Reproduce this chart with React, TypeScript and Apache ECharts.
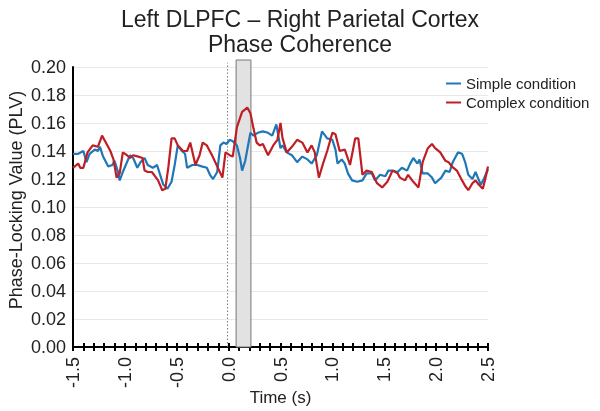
import React, { useEffect, useRef } from "react";
import * as echarts from "echarts";

const simpleTimes = [-1.5,-1.45,-1.4,-1.37,-1.34,-1.29,-1.26,-1.24,-1.21,-1.16,-1.12,-1.1,-1.07,-1.05,-1.02,-0.98,-0.95,-0.92,-0.88,-0.85,-0.81,-0.78,-0.73,-0.69,-0.66,-0.63,-0.59,-0.55,-0.52,-0.49,-0.45,-0.42,-0.4,-0.35,-0.3,-0.26,-0.21,-0.18,-0.15,-0.11,-0.08,-0.05,-0.02,0.01,0.04,0.08,0.11,0.13,0.16,0.21,0.24,0.28,0.33,0.38,0.42,0.46,0.5,0.52,0.56,0.61,0.66,0.71,0.76,0.8,0.85,0.9,0.95,1.0,1.03,1.05,1.09,1.12,1.15,1.19,1.24,1.29,1.33,1.38,1.41,1.46,1.51,1.54,1.58,1.63,1.67,1.72,1.75,1.78,1.82,1.84,1.87,1.92,1.96,1.99,2.05,2.09,2.13,2.16,2.21,2.25,2.28,2.31,2.35,2.38,2.43,2.46,2.5];
const simpleValues = [0.138,0.138,0.14,0.132,0.138,0.141,0.14,0.143,0.136,0.129,0.13,0.133,0.126,0.119,0.125,0.132,0.137,0.135,0.128,0.132,0.135,0.13,0.128,0.13,0.123,0.116,0.113,0.118,0.13,0.144,0.14,0.138,0.128,0.13,0.13,0.129,0.128,0.123,0.12,0.125,0.144,0.146,0.145,0.148,0.147,0.144,0.135,0.126,0.133,0.153,0.151,0.153,0.154,0.153,0.151,0.159,0.142,0.144,0.139,0.137,0.132,0.136,0.134,0.131,0.137,0.154,0.149,0.148,0.141,0.131,0.134,0.131,0.124,0.119,0.118,0.119,0.124,0.124,0.119,0.123,0.122,0.126,0.126,0.125,0.128,0.126,0.131,0.135,0.131,0.134,0.124,0.124,0.121,0.117,0.121,0.126,0.125,0.132,0.139,0.138,0.132,0.123,0.12,0.125,0.116,0.12,0.127];

const complexTimes = [-1.5,-1.45,-1.43,-1.4,-1.36,-1.31,-1.26,-1.22,-1.19,-1.14,-1.11,-1.08,-1.05,-1.02,-0.98,-0.95,-0.92,-0.87,-0.83,-0.81,-0.78,-0.74,-0.71,-0.68,-0.64,-0.61,-0.58,-0.55,-0.52,-0.49,-0.44,-0.4,-0.37,-0.32,-0.28,-0.25,-0.21,-0.16,-0.11,-0.06,-0.03,0.01,0.04,0.08,0.13,0.18,0.21,0.24,0.27,0.3,0.33,0.38,0.43,0.47,0.5,0.52,0.56,0.61,0.66,0.71,0.76,0.8,0.83,0.87,0.91,0.95,1.0,1.03,1.07,1.12,1.17,1.22,1.25,1.29,1.33,1.38,1.43,1.48,1.53,1.58,1.63,1.65,1.7,1.73,1.78,1.83,1.87,1.92,1.96,1.99,2.04,2.09,2.12,2.15,2.2,2.25,2.28,2.31,2.35,2.38,2.41,2.45,2.47,2.5];
const complexValues = [0.128,0.131,0.128,0.128,0.139,0.144,0.143,0.151,0.147,0.14,0.134,0.121,0.124,0.139,0.137,0.135,0.137,0.136,0.135,0.126,0.125,0.125,0.122,0.119,0.112,0.113,0.129,0.149,0.149,0.144,0.14,0.14,0.146,0.13,0.137,0.146,0.144,0.137,0.129,0.121,0.139,0.137,0.136,0.157,0.168,0.171,0.167,0.156,0.146,0.144,0.145,0.137,0.144,0.148,0.16,0.149,0.139,0.143,0.148,0.146,0.139,0.144,0.139,0.121,0.131,0.14,0.153,0.152,0.14,0.141,0.13,0.149,0.149,0.123,0.126,0.125,0.117,0.114,0.118,0.126,0.124,0.121,0.119,0.123,0.118,0.114,0.132,0.142,0.145,0.142,0.139,0.133,0.132,0.129,0.126,0.119,0.115,0.112,0.117,0.119,0.116,0.113,0.119,0.129];

const seriesNames = ["Simple condition", "Complex condition"];
const shadeWindow = [0.072, 0.215];
const shadeTop = 0.205;
const eventTime = -0.01;

const FONT = "Liberation Sans, Arial, sans-serif";

export default function App() {
  const ref = useRef<HTMLDivElement>(null);
  useEffect(() => {
    if (!ref.current) return;
    const chart = echarts.init(ref.current, undefined, { renderer: "svg" });
    const zip = (t: number[], v: number[]) => t.map((x, i) => [x, v[i]]);
    const fmtX = (v: number) => {
      const r = Math.round(v * 10);
      return r % 5 === 0 ? (r / 10).toFixed(1) : "";
    };
    chart.setOption({
      animation: false,
      textStyle: { fontFamily: FONT },
      title: {
        text: "Left DLPFC \u2013 Right Parietal Cortex\nPhase Coherence",
        left: "center",
        top: 1,
        textStyle: { fontFamily: FONT, fontSize: 23, fontWeight: "normal", color: "#222", lineHeight: 25 },
      },
      legend: {
        data: seriesNames,
        orient: "vertical",
        left: 441,
        top: 71,
        itemWidth: 15,
        itemHeight: 2,
        itemGap: 4,
        icon: "rect",
        textStyle: { fontFamily: FONT, fontSize: 15, color: "#222" },
      },
      grid: { left: 73, right: 112, top: 67, bottom: 64, containLabel: false, outerBoundsMode: "none" },
      xAxis: [
        {
          type: "value",
          min: -1.5,
          max: 2.5,
          interval: 0.1,
          name: "Time (s)",
          nameLocation: "middle",
          nameGap: 42,
          nameMoveOverlap: false,
          nameTextStyle: { fontFamily: FONT, fontSize: 17, color: "#222" },
          axisLine: { show: true, onZero: false, lineStyle: { color: "#000", width: 2 } },
          axisTick: { show: true, inside: false, length: 4, lineStyle: { color: "#000", width: 2 } },
          axisLabel: { rotate: 90, margin: 10, fontSize: 18, color: "#222", formatter: fmtX, fontFamily: FONT },
          splitLine: { show: false },
        },
        {
          type: "value",
          min: -1.5,
          max: 2.5,
          interval: 0.1,
          position: "bottom",
          axisLine: { show: false, onZero: false },
          axisTick: { show: true, inside: true, length: 4, lineStyle: { color: "#000", width: 2 } },
          axisLabel: { show: false },
          splitLine: { show: false },
        },
      ],
      yAxis: {
        type: "value",
        min: 0,
        max: 0.2,
        interval: 0.02,
        name: "Phase-Locking Value (PLV)",
        nameLocation: "middle",
        nameGap: 48,
        nameMoveOverlap: false,
        nameTextStyle: { fontFamily: FONT, fontSize: 18, color: "#222", padding: [0, 0, 0, 14] },
        axisLine: { show: true, onZero: false, lineStyle: { color: "#000", width: 2 } },
        axisTick: { show: false },
        axisLabel: { fontSize: 18, color: "#222", margin: 7, formatter: (v: number) => v.toFixed(2), fontFamily: FONT },
        splitLine: { show: true, lineStyle: { color: "#e8e8e8", width: 1 } },
      },
      series: [
        {
          type: "custom",
          name: "window",
          silent: true,
          clip: false,
          z: 1,
          data: [[shadeWindow[0], shadeWindow[1], eventTime]],
          encode: { x: [0, 1] },
          renderItem: (params: any, api: any) => {
            const p0 = api.coord([api.value(0), 0]);
            const p1 = api.coord([api.value(1), shadeTop]);
            const e0 = api.coord([api.value(2), 0]);
            const e1 = api.coord([api.value(2), 0.203]);
            return {
              type: "group",
              children: [
                {
                  type: "rect",
                  shape: { x: p0[0], y: p1[1], width: p1[0] - p0[0], height: p0[1] - p1[1] },
                  style: { fill: "#e2e2e2", stroke: "#777", lineWidth: 1 },
                },
                {
                  type: "line",
                  shape: { x1: e0[0], y1: e0[1], x2: e1[0], y2: e1[1] },
                  style: { stroke: "#777", lineWidth: 1, lineDash: [1.5, 2] },
                },
              ],
            };
          },
        },
        {
          type: "line",
          name: seriesNames[0],
          data: zip(simpleTimes, simpleValues),
          showSymbol: false,
          color: "#1f77b8",
          lineStyle: { width: 2.2, color: "#1f77b8" },
          z: 3,
        },
        {
          type: "line",
          name: seriesNames[1],
          data: zip(complexTimes, complexValues),
          showSymbol: false,
          color: "#bf1e24",
          lineStyle: { width: 2.2, color: "#bf1e24" },
          z: 4,
        },
      ],
    });
    return () => chart.dispose();
  }, []);
  return <div ref={ref} style={{ position: "fixed", left: 0, top: 0, width: 600, height: 411 }} />;
}
